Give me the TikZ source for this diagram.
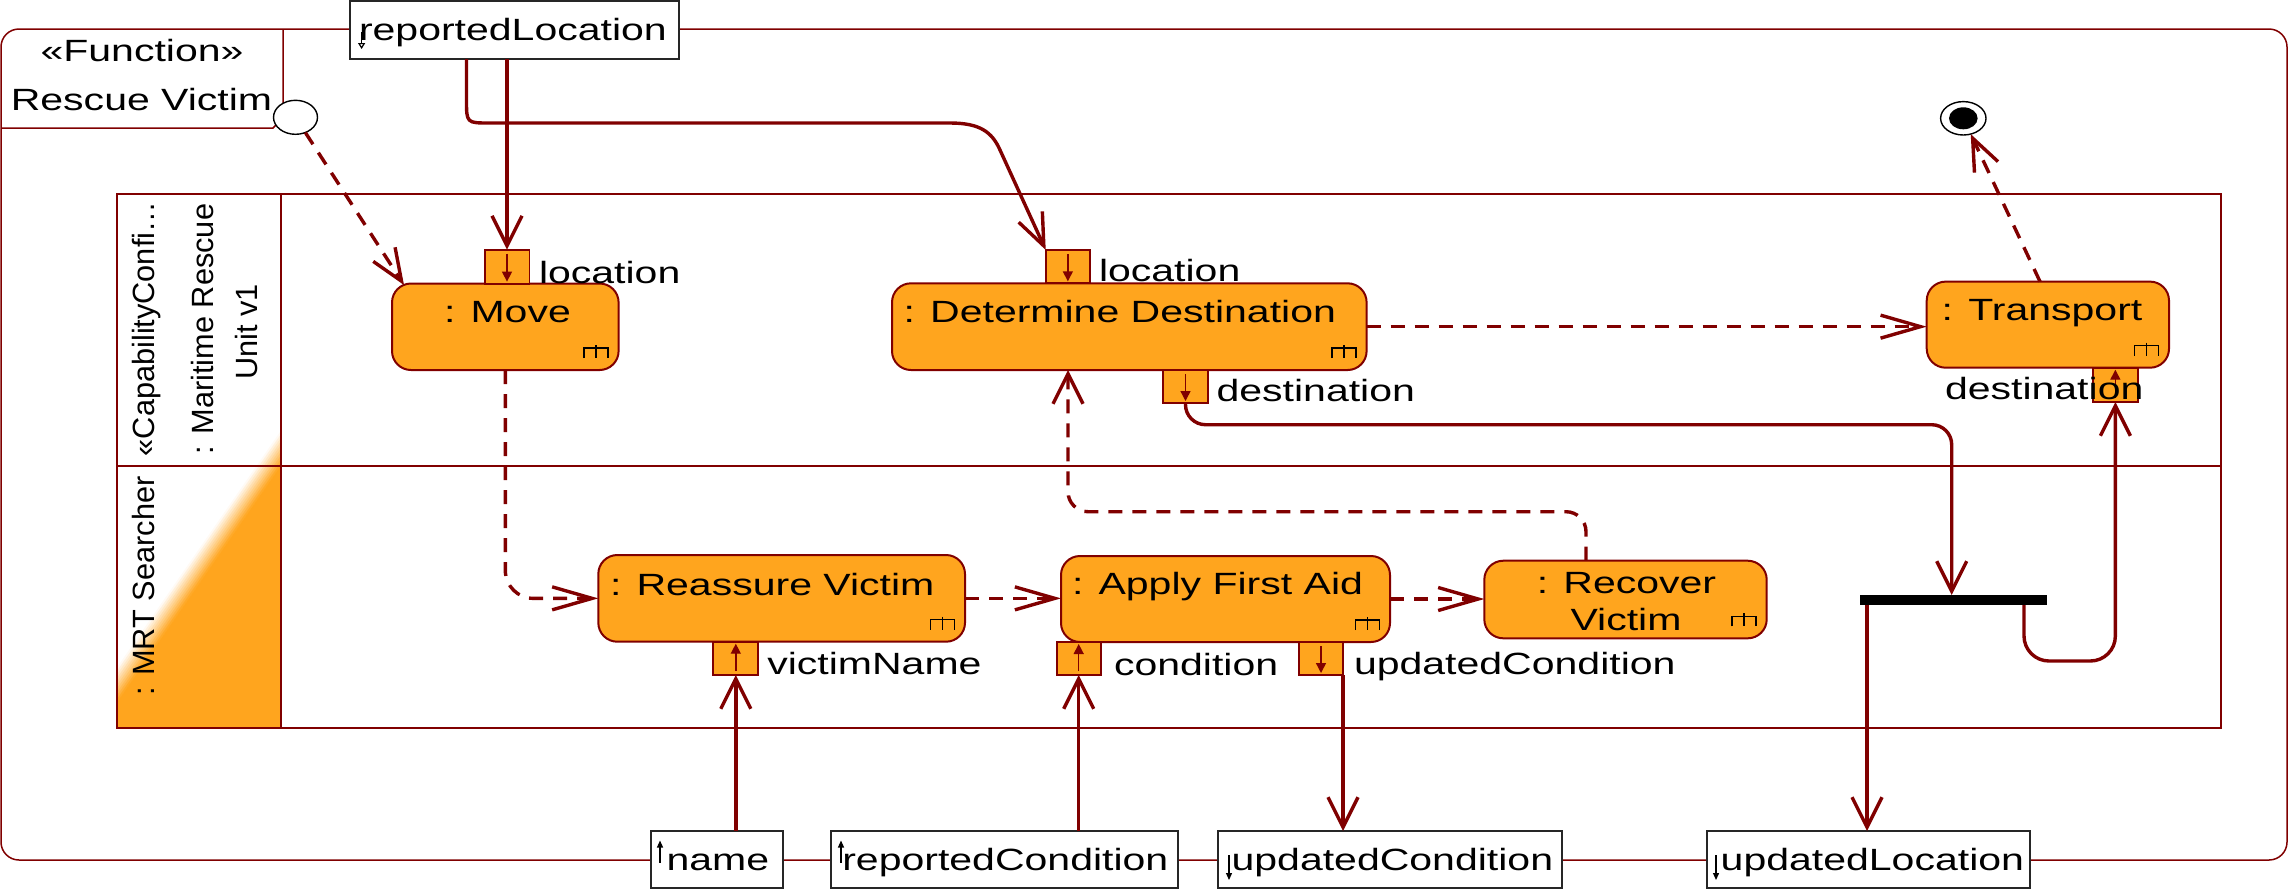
\documentclass[tikz,border=0pt]{standalone}
\usepackage{fontspec}
\setmainfont{Liberation Sans}[FakeStretch=1.335]
\newfontfamily\lanefont{Liberation Sans}
\usetikzlibrary{arrows.meta,shapes.geometric,fit,calc}

\definecolor{umlred}{RGB}{128,0,0}
\definecolor{umlorange}{RGB}{255,165,30}

\tikzset{
  every node/.style={inner sep=0pt, outer sep=0pt},
  txt/.style={font=\fontsize{15.36pt}{18.4pt}\selectfont, text=black, anchor=base west},
  lanetxt/.style={font=\lanefont\fontsize{15.36pt}{18.4pt}\selectfont, text=black, rotate=90, anchor=base},
  frameline/.style={draw=umlred, line width=0.75pt},
  action/.style={draw=umlred, fill=umlorange, line width=1pt, rounded corners=9.5pt},
  pinbox/.style={draw=umlred, fill=umlorange, line width=0.9pt},
  parambox/.style={draw=black!85, fill=white, line width=0.9pt},
  flow/.style={draw=umlred, line width=1.7pt},
  ctrl/.style={flow, dash pattern=on 7pt off 5pt},
  vtip/.style={-{Straight Barb[length=15pt,width=15pt]}},
  htip/.style={-{Straight Barb[length=20pt,width=11.5pt]}},
  dtip/.style={-{Straight Barb[length=16pt,width=13pt]}},
  pinarrow/.style={draw=umlred, line width=0.7pt, -{Triangle[length=5pt,width=5pt]}},
  parrow/.style={draw=black, line width=0.6pt, -{Triangle[length=3.5pt,width=3pt]}},
  rake/.pic={\draw[black, line width=0.75pt] (-12,6.5) -- (-12,-3.5) -- (12,-3.5) -- (12,6.5) (0,-6.5) -- (0,6.5);},
}

\begin{document}
\begin{tikzpicture}[x=0.5pt, y=-0.5pt]
\useasboundingbox (0,0) rectangle (2290,890);

% activity frame and its header
\draw[frameline, rounded corners=9pt] (1,29) rectangle (2287,860);
\draw[frameline] (283,29) -- (283,118) -- (273,128) -- (1,128);
\node[txt, anchor=base] (fnkind) at (142,61) {«Function»};
\node[txt, anchor=base] (fnname) at (141.5,110) {Rescue Victim};

% swimlane header shading
\begin{scope}
  \clip (117,194) rectangle (281,728);
  \foreach \k in {0,...,9}{
    \pgfmathsetmacro\sa{-10+2*\k}
    \pgfmathsetmacro\sb{\sa+2.5}
    \pgfmathsetmacro\pc{(\k+0.5)*10}
    \fill[umlorange!\pc!white] ({426.6+0.822*\sa},{237.7+0.569*\sa}) -- ({-28.6+0.822*\sa},{895.3+0.569*\sa})
      -- ({-28.6+0.822*\sb},{895.3+0.569*\sb}) -- ({426.6+0.822*\sb},{237.7+0.569*\sb}) -- cycle;
  }
  \fill[umlorange] ({426.6+8.22},{237.7+5.69}) -- ({-28.6+8.22},{895.3+5.69})
    -- ({-28.6+329},{895.3+228}) -- ({426.6+329},{237.7+228}) -- cycle;
\end{scope}

% swimlanes
\draw[frameline] (117,194) rectangle (2221,728);
\draw[frameline] (281,194) -- (281,728);
\draw[frameline] (117,466) -- (2221,466);
\node[lanetxt] (lane1a) at (154,329) {«CapabilityConfi…};
\node[lanetxt] (lane1b) at (213,329) {: Maritime Rescue};
\node[lanetxt] (lane1c) at (257,332) {Unit v1};
\node[lanetxt] (lane2) at (154,586) {: MRT Searcher};

% parameter nodes
\node[parambox, fit={(350,1)(679,59)}] (rl) {};
\node[txt] (rltxt) at (359,40) {reportedLocation};
\draw[parrow, -{Triangle[open,length=3pt,width=3.5pt]}] ($(rl.west)+(11.6,2)$) -- ($(rl.west)+(11.6,19)$);

\node[parambox, fit={(651,831)(783,888)}] (namebox) {};
\node[parambox, fit={(831,831)(1178,888)}] (rcbox) {};
\node[parambox, fit={(1218,831)(1562,888)}] (ucbox) {};
\node[parambox, fit={(1707,831)(2030,888)}] (ulbox) {};
\draw[parrow] ($(namebox.west)+(9,3)$) -- ($(namebox.west)+(9,-19)$);
\draw[parrow] ($(rcbox.west)+(10,3)$) -- ($(rcbox.west)+(10,-19)$);
\draw[parrow] ($(ucbox.west)+(11,-4.5)$) -- ($(ucbox.west)+(11,20.5)$);
\draw[parrow] ($(ulbox.west)+(9,-4.5)$) -- ($(ulbox.west)+(9,20.5)$);
\node[txt] (nametxt) at (666.6,870) {name};
\node[txt] (rctxt) at (842.3,870) {reportedCondition};
\node[txt] (uctxt) at (1231.6,870) {updatedCondition};
\node[txt] (ultxt) at (1720.7,870) {updatedLocation};

% initial parameter node and final node
\node[ellipse, draw=black, fill=white, line width=0.7pt, minimum width=22pt, minimum height=17pt] (start) at (295.5,117.3) {};
\node[ellipse, draw=black, fill=white, line width=0.7pt, minimum width=22.7pt, minimum height=16.7pt] (final) at (1963.3,118.3) {};
\node[ellipse, fill=black, minimum width=14.3pt, minimum height=11pt] (finaldot) at (final) {};

% actions
\node[action, fit={(392,283.5)(618.6,370)}] (move) {};
\node[action, fit={(892,283.3)(1366.6,370)}] (det) {};
\node[action, fit={(1926.7,281.6)(2169,367.7)}] (transport) {};
\node[action, fit={(598.3,555)(965,641.7)}] (reassure) {};
\node[action, fit={(1061,556)(1390,642)}] (apply) {};
\node[action, fit={(1484.3,560.7)(1766.7,638.3)}] (recover) {};
\foreach \a in {move,det,transport,reassure,apply,recover}
  \pic at ($(\a.south east)+(-22.5,-18.5)$) {rake};

\node[txt] (movetxt) at (444,322) {: Move};
\node[txt] (dettxt) at (903.6,322.7) {: Determine Destination};
\node[txt] (trtxt) at (1941.7,320) {: Transport};
\node[txt] (retxt) at (610,595) {: Reassure Victim};
\node[txt] (aptxt) at (1072,594.3) {: Apply First Aid};
\node[txt, anchor=base] (rctxt1) at (1626.5,593.3) {: Recover};
\node[txt, anchor=base] (rctxt2) at (1626,630) {Victim};

% fork
\node[fill=black, fit={(1860,595)(2046.7,605)}] (fork) {};

% pins
\node[pinbox, fit={(484.6,249.6)(529.4,283.6)}] (movein) {};
\node[pinbox, fit={(1045.7,250)(1090,283.3)}] (detin) {};
\node[pinbox, fit={(1163,370)(1208,403)}] (detout) {};
\node[pinbox, fit={(2092.7,367.7)(2138,402)}] (tpin) {};
\node[pinbox, fit={(713.3,641.7)(758.3,675)}] (vnpin) {};
\node[pinbox, fit={(1056.7,642)(1100.7,675)}] (cpin) {};
\node[pinbox, fit={(1299,642)(1343,675)}] (ucpin) {};
\foreach \p in {movein,detin,detout,ucpin}
  \draw[pinarrow] ($(\p.north)+(0,4)$) -- ($(\p.south)+(0,-2)$);
\foreach \p in {tpin,vnpin,cpin}
  \draw[pinarrow] ($(\p.south)+(0,-4)$) -- ($(\p.north)+(0,2)$);

\node[txt] (l1) at (539,283) {location};
\node[txt] (l2) at (1099,281.7) {location};
\node[txt] (l3) at (1216.6,401.7) {destination};
\node[txt] (l4) at (1945,399) {destination};
\node[txt] (l5) at (767.3,674) {victimName};
\node[txt] (l6) at (1114,675) {condition};
\node[txt] (l7) at (1354,674) {updatedCondition};

% object flows
\coordinate (rlA) at ($(rl.south west)+(116.5,0)$);
\coordinate (bendB) at ($(detin.north west)+(-95.7,-127)$);
\coordinate (bendC) at ($(detin.north west)+(-45.7,-100)$);
\coordinate (cornerA) at (rlA |- bendB);
\draw[flow, vtip] (movein.north |- rl.south) -- (movein.north);
\draw[flow, dtip] (rlA) -- ($(cornerA)+(0,-23)$) .. controls (cornerA) .. ($(cornerA)+(23,0)$)
  -- (bendB) .. controls ($(bendB)+(30,0)$) and ($(bendC)+(-8,-18)$) .. (bendC) -- (detin.north west);
\draw[flow, rounded corners=10pt, vtip] (detout.south) -- ++(0,21.7) -| ($(fork.north west)+(91.7,0)$);
\coordinate (forkL) at ($(fork.south west)+(7,0)$);
\coordinate (forkR) at ($(fork.south east)+(-22.7,0)$);
\draw[flow, rounded corners=12.5pt, vtip] (forkR) -- ++(0,56) -| (tpin.south);
\draw[flow, vtip] (forkL) -- (forkL |- ulbox.north);
\draw[flow, vtip] (vnpin.south |- namebox.north) -- (vnpin.south);
\draw[flow, vtip] (cpin.south |- rcbox.north) -- (cpin.south);
\draw[flow, vtip] (ucpin.south east) -- (ucpin.south east |- ucbox.north);

% control flows
\coordinate (moveTL) at ($(move.north west)+(12,1.5)$);
\coordinate (recTop) at ($(recover.north west)+(101.7,0)$);
\coordinate (detBot) at ($(det.south west)+(176,0)$);
\coordinate (trTop) at ($(transport.north west)+(113.3,0)$);
\draw[ctrl, dtip] (start) -- (moveTL);
\draw[ctrl, htip, rounded corners=14pt] (move.south) |- (reassure.west);
\draw[ctrl, htip] (reassure.east) -- (reassure.east -| apply.west);
\draw[ctrl, htip] (apply.east) -- (apply.east -| recover.west);
\draw[ctrl, vtip, rounded corners=10pt] (recTop) -- ++(0,-49) -| (detBot);
\draw[ctrl, htip] (det.east) -- (det.east -| transport.west);
\draw[ctrl, dtip] (trTop) -- (final);
\end{tikzpicture}
\end{document}
